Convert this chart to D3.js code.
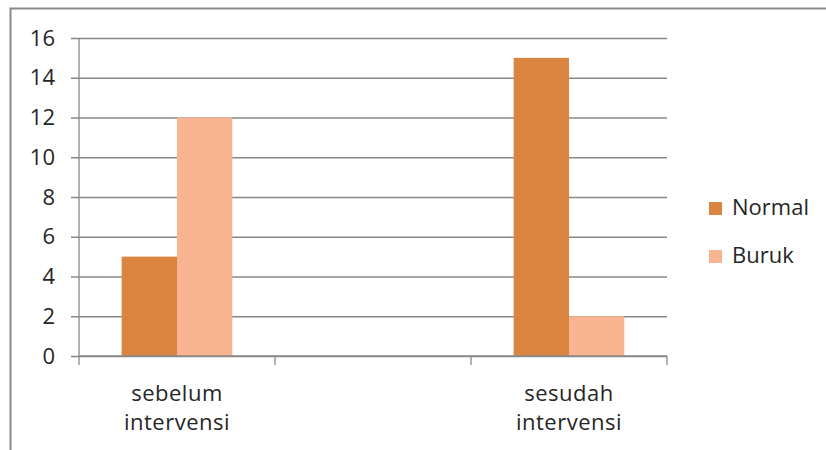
<!DOCTYPE html>
<html>
<head>
<meta charset="utf-8">
<script src="https://cdn.jsdelivr.net/npm/d3@7"></script>
<style>
  body { margin: 0; background: #fff; }
  text { font-family: "Open Sans", sans-serif; fill: #262626; }
</style>
</head>
<body>
<script>
// data (middle category is an empty slot)
var categories = ["sebelum intervensi", "", "sesudah intervensi"];
var catLines = [["sebelum", "intervensi"], [], ["sesudah", "intervensi"]];
var seriesNames = ["Normal", "Buruk"];
var normalValues = [5, null, 15];
var burukValues = [12, null, 2];
var yTicks = [0, 2, 4, 6, 8, 10, 12, 14, 16];
var colors = ["#DA843F", "#F9B592"];

var width = 826;
var height = 450;

// plot area
var plot = { left: 79, right: 667, top: 38, bottom: 356 };

var svg = d3.select("body")
  .append("svg")
  .attr("width", width)
  .attr("height", height);

// outer frame (only top and left edge show in the picture)
svg.append("path")
  .attr("d", "M10.5,450 V8.5 H826")
  .attr("fill", "none")
  .attr("stroke", "#8a8a8a")
  .attr("stroke-width", 2);

var yScale = d3.scaleLinear()
  .domain([0, 16])
  .range([plot.bottom, plot.top]);

var xScale = d3.scaleBand()
  .domain(categories)
  .range([plot.left, plot.right])
  .paddingInner(0)
  .paddingOuter(0);

var xInner = d3.scaleBand()
  .domain(seriesNames)
  .range([0, xScale.bandwidth()])
  .paddingInner(0)
  .paddingOuter(0.77);

// gridlines + y labels
var yAxis = d3.axisLeft(yScale)
  .tickValues(yTicks)
  .tickSize(-(plot.right - (plot.left - 8)))
  .tickPadding(16)
  .tickFormat(d3.format("d"));

var yG = svg.append("g")
  .attr("transform", "translate(" + (plot.left - 8) + ",0)")
  .call(yAxis);
yG.select(".domain").remove();
yG.selectAll(".tick line").attr("stroke", "#888").attr("stroke-width", 1.3);
yG.selectAll(".tick text")
  .attr("font-size", 22)
  .attr("font-family", "Open Sans, sans-serif")
  .attr("fill", "#262626");

// bars
var rows = categories.map(function(c, i) {
  return { cat: c, vals: [normalValues[i], burukValues[i]] };
});

var groups = svg.selectAll(".cat")
  .data(rows)
  .enter().append("g")
  .attr("transform", function(d) { return "translate(" + xScale(d.cat) + ",0)"; });

groups.selectAll("rect")
  .data(function(d) {
    return d.vals.map(function(v, j) { return { name: seriesNames[j], v: v, j: j }; })
      .filter(function(e) { return e.v != null; });
  })
  .enter().append("rect")
  .attr("x", function(d) { return xInner(d.name); })
  .attr("y", function(d) { return yScale(d.v); })
  .attr("width", xInner.bandwidth())
  .attr("height", function(d) { return yScale(0) - yScale(d.v); })
  .attr("fill", function(d) { return colors[d.j]; });

// y axis line
svg.append("line")
  .attr("x1", plot.left).attr("x2", plot.left)
  .attr("y1", yScale(16)).attr("y2", yScale(0))
  .attr("stroke", "#888").attr("stroke-width", 1.3);

// x axis line and boundary ticks
svg.append("line")
  .attr("x1", plot.left).attr("x2", plot.right)
  .attr("y1", yScale(0)).attr("y2", yScale(0))
  .attr("stroke", "#888").attr("stroke-width", 1.3);

var bounds = categories.map(function(c) { return xScale(c); }).concat([plot.right]);
svg.selectAll(".xtick")
  .data(bounds)
  .enter().append("line")
  .attr("x1", function(d) { return d; }).attr("x2", function(d) { return d; })
  .attr("y1", yScale(0)).attr("y2", yScale(0) + 9)
  .attr("stroke", "#888").attr("stroke-width", 1.3);

// category labels, two lines each
var labels = svg.selectAll(".xlab")
  .data(categories)
  .enter().append("text")
  .attr("text-anchor", "middle")
  .attr("font-size", 22)
  .attr("letter-spacing", 0.5);

labels.each(function(c, i) {
  var t = d3.select(this);
  catLines[i].forEach(function(line, k) {
    t.append("tspan")
      .attr("x", xScale(c) + xScale.bandwidth() / 2)
      .attr("y", 401 + k * 29)
      .text(line);
  });
});

// legend
var legend = svg.selectAll(".leg")
  .data(seriesNames)
  .enter().append("g")
  .attr("transform", function(d, i) { return "translate(709," + (202 + i * 48) + ")"; });

legend.append("rect")
  .attr("width", 13).attr("height", 13)
  .attr("fill", function(d, i) { return colors[i]; });

legend.append("text")
  .attr("x", 23)
  .attr("y", 13)
  .attr("font-size", 22)
  .text(function(d) { return d; });
</script>
</body>
</html>
